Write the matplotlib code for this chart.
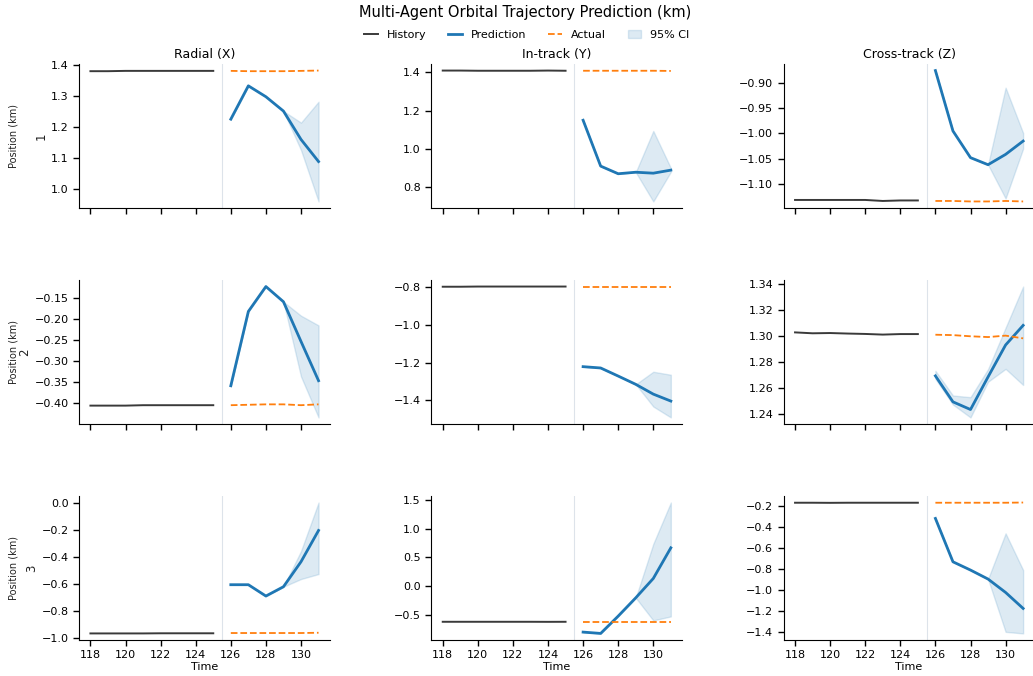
import matplotlib
matplotlib.use("Agg")
import matplotlib.pyplot as plt
import matplotlib.transforms as mtransforms
from matplotlib.ticker import MaxNLocator
import numpy as np

hist_t = list(range(118, 126))
pred_t = list(range(126, 132))
components = ["Radial (X)", "In-track (Y)", "Cross-track (Z)"]
agents = ["1", "2", "3"]

# history[agent][component]
history = [
    [[1.379, 1.379, 1.380, 1.380, 1.380, 1.380, 1.380, 1.380],
     [1.410, 1.410, 1.409, 1.409, 1.409, 1.409, 1.410, 1.409],
     [-1.132, -1.132, -1.132, -1.132, -1.132, -1.134, -1.133, -1.133]],
    [[-0.406, -0.406, -0.406, -0.405, -0.405, -0.405, -0.405, -0.405],
     [-0.797, -0.797, -0.796, -0.796, -0.796, -0.796, -0.796, -0.796],
     [1.3029, 1.3022, 1.3024, 1.3020, 1.3017, 1.3012, 1.3016, 1.3016]],
    [[-0.968, -0.968, -0.968, -0.968, -0.967, -0.967, -0.967, -0.967],
     [-0.616, -0.616, -0.616, -0.616, -0.616, -0.616, -0.617, -0.616],
     [-0.165, -0.165, -0.166, -0.165, -0.165, -0.165, -0.165, -0.165]],
]
actual = [
    [[1.380, 1.379, 1.379, 1.379, 1.380, 1.381],
     [1.409, 1.409, 1.409, 1.409, 1.409, 1.408],
     [-1.134, -1.134, -1.135, -1.135, -1.134, -1.135]],
    [[-0.405, -0.404, -0.403, -0.403, -0.405, -0.403],
     [-0.797, -0.797, -0.797, -0.797, -0.797, -0.797],
     [1.3011, 1.3008, 1.2999, 1.2993, 1.3004, 1.2983]],
    [[-0.965, -0.965, -0.965, -0.965, -0.965, -0.963],
     [-0.616, -0.616, -0.616, -0.616, -0.616, -0.616],
     [-0.165, -0.165, -0.165, -0.165, -0.165, -0.163]],
]
prediction = [
    [[1.225, 1.332, 1.297, 1.251, 1.160, 1.089],
     [1.150, 0.910, 0.870, 0.878, 0.873, 0.889],
     [-0.875, -0.995, -1.048, -1.062, -1.0415, -1.015]],
    [[-0.359, -0.183, -0.124, -0.160, -0.254, -0.347],
     [-1.222, -1.229, -1.272, -1.316, -1.368, -1.405],
     [1.2694, 1.2494, 1.2435, 1.2686, 1.2932, 1.3083]],
    [[-0.607, -0.607, -0.691, -0.622, -0.437, -0.205],
     [-0.795, -0.818, -0.517, -0.200, 0.136, 0.668],
     [-0.315, -0.730, -0.809, -0.895, -1.023, -1.176]],
]
ci_lower = [
    [[1.225, 1.332, 1.297, 1.251, 1.126, 0.961],
     [1.150, 0.910, 0.870, 0.878, 0.725, 0.880],
     [-0.875, -0.995, -1.048, -1.062, -1.129, -1.030]],
    [[-0.359, -0.183, -0.124, -0.160, -0.337, -0.434],
     [-1.222, -1.229, -1.272, -1.316, -1.434, -1.492],
     [1.2671, 1.2473, 1.2374, 1.2649, 1.2748, 1.2624]],
    [[-0.607, -0.607, -0.691, -0.622, -0.565, -0.528],
     [-0.795, -0.818, -0.517, -0.200, -0.592, -0.523],
     [-0.315, -0.730, -0.809, -0.895, -1.400, -1.415]],
]
ci_upper = [
    [[1.225, 1.332, 1.297, 1.251, 1.214, 1.281],
     [1.150, 0.910, 0.870, 0.878, 1.094, 0.900],
     [-0.875, -0.995, -1.048, -1.062, -0.909, -0.999]],
    [[-0.359, -0.183, -0.124, -0.160, -0.193, -0.216],
     [-1.222, -1.229, -1.272, -1.316, -1.249, -1.265],
     [1.2733, 1.2543, 1.2530, 1.2746, 1.3065, 1.3382]],
    [[-0.607, -0.607, -0.691, -0.622, -0.358, 0.002],
     [-0.795, -0.818, -0.517, -0.200, 0.737, 1.454],
     [-0.315, -0.730, -0.809, -0.895, -0.458, -0.809]],
]

plt.rcParams['font.family'] = ['DejaVu Sans']
fig, axes = plt.subplots(3, 3, figsize=(10.33, 6.76), dpi=100, sharex=True)
fig.subplots_adjust(left=0.0765, right=1.0015, top=0.9053, bottom=0.0533,
                    wspace=0.404, hspace=0.5)

for i in range(3):
    for j in range(3):
        ax = axes[i, j]
        ax.axvline(125.5, color='#dde3ea', lw=0.8, zorder=0)
        h, = ax.plot(hist_t, history[i][j], color='#3a3a3a', lw=1.4, label='History')
        p, = ax.plot(pred_t, prediction[i][j], color='#1f77b4', lw=2.0, label='Prediction')
        a, = ax.plot(pred_t, actual[i][j], color='#ff7f0e', lw=1.3, ls='--', label='Actual')
        f = ax.fill_between(pred_t, ci_lower[i][j], ci_upper[i][j], color='#1f77b4',
                            alpha=0.15, lw=1, label='95% CI')
        for s in ['top', 'right']:
            ax.spines[s].set_visible(False)
        ax.tick_params(labelsize=8, length=4, width=1)
        ax.set_xticks(range(118, 131, 2))
        ax.yaxis.set_major_locator(MaxNLocator(nbins=7, steps=[1, 2, 2.5, 5, 10]))
        if i == 0:
            ax.set_title(components[j], fontsize=9, pad=4)
        if j == 0:
            tr = mtransforms.blended_transform_factory(fig.transFigure, ax.transAxes)
            ax.text(13.5 / 1033, 0.5, "Position (km)", transform=tr, rotation=90,
                    ha='center', va='center', fontsize=7, color='#222222')
            ax.set_ylabel(agents[i], fontsize=8.5, labelpad=2.5, color='#222222')
        if i == 2:
            ax.set_xlabel("Time", fontsize=8, labelpad=1)

fig.text(0.508, 1 - 13 / 676, "Multi-Agent Orbital Trajectory Prediction (km)",
         fontsize=10.5, ha='center', va='center')
fig.legend(handles=[h, p, a, f], loc='center', ncol=4, frameon=False,
           fontsize=8, bbox_to_anchor=(0.510, 1 - 35 / 676), handlelength=1.2,
           columnspacing=2.0, handletextpad=0.8)
fig.savefig("out.png", dpi=100)
